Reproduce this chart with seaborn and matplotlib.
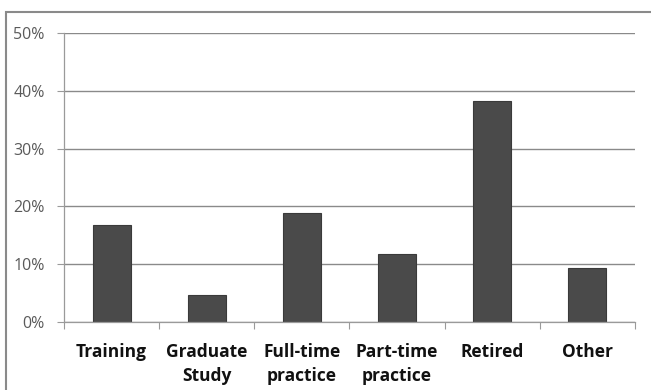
import matplotlib
matplotlib.use("Agg")
import matplotlib.pyplot as plt
import seaborn as sns
import pandas as pd
from matplotlib.patches import Rectangle
from matplotlib.ticker import FuncFormatter, FixedLocator

categories = ["Training", "Graduate\nStudy", "Full-time\npractice",
              "Part-time\npractice", "Retired", "Other"]
shares = [16.7, 4.6, 18.9, 11.8, 38.2, 9.3]
y_ticks = [0, 10, 20, 30, 40, 50]

df = pd.DataFrame({"category": categories, "share": shares})

sns.set_theme(style="white")
plt.rcParams["font.family"] = ["Open Sans", "DejaVu Sans"]

W, H = 651, 390
fig = plt.figure(figsize=(W / 100, H / 100), dpi=100)
ax = fig.add_axes([64 / W, 1 - 322 / H, (635 - 64) / W, (322 - 33) / H])

sns.barplot(data=df, x="category", y="share", ax=ax, color="#4a4a4a",
            width=0.4, edgecolor="#3a3a3a", linewidth=0.8, saturation=1)

ax.set_ylim(0, 50)
ax.set_xlim(-0.5, len(categories) - 0.5)
ax.yaxis.set_major_locator(FixedLocator(y_ticks))
ax.yaxis.set_major_formatter(FuncFormatter(lambda v, p: f"{v:.0f}%"))
ax.set_axisbelow(True)
ax.grid(axis="y", color="#8a8a8a", linewidth=1.0)
ax.set_xlabel("")
ax.set_ylabel("")

for side in ["top", "right"]:
    ax.spines[side].set_visible(False)
ax.spines["left"].set_color("#9a9a9a")
ax.spines["bottom"].set_color("#9a9a9a")
ax.spines["left"].set_linewidth(0.9)
ax.spines["bottom"].set_linewidth(0.9)

ax.tick_params(axis="y", which="major", left=True, length=5, width=0.8,
               color="#9a9a9a", labelsize=11.5, labelcolor="#5a5a5a", pad=9)
ax.tick_params(axis="x", which="major", bottom=False, labelsize=12.5,
               labelcolor="#111111", pad=9)
for lbl in ax.get_xticklabels():
    lbl.set_fontweight("bold")
    lbl.set_linespacing(1.45)

# category boundary ticks below the baseline
ax.set_xticks([i + 0.5 for i in range(-1, len(categories))], minor=True)
ax.tick_params(axis="x", which="minor", bottom=True, length=5, width=0.8,
               color="#9a9a9a")

# chart frame
fig.patches.append(Rectangle((6 / W, -0.05), 1.0, 1 - 12 / H + 0.05,
                             transform=fig.transFigure, fill=False,
                             edgecolor="#8a8a8a", linewidth=1.5))

fig.savefig("out.png", dpi=100)
